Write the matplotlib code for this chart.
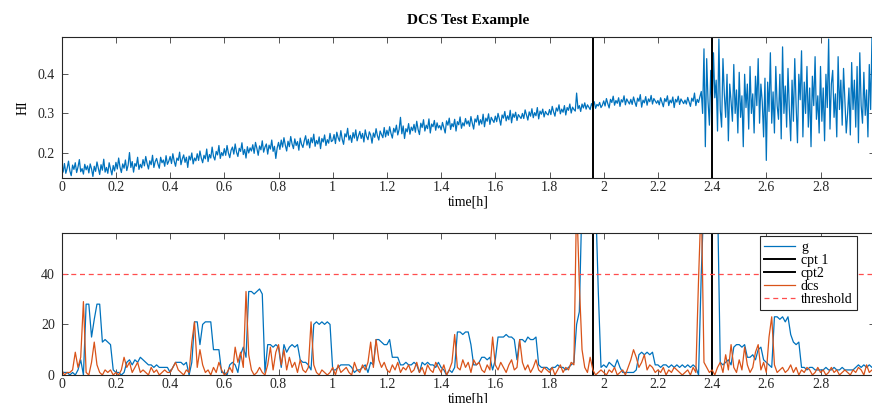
import numpy as np
import matplotlib
matplotlib.use("Agg")
import matplotlib.pyplot as plt
from matplotlib.ticker import FuncFormatter

# both panels run from 0 to 3 h with equally spaced samples
t_start, t_end = 0.0, 3.0

# health indicator, in thousandths, 20 samples per 0.1 h (top panel)
hi_milli = [
    165, 150, 172, 147, 160, 178, 153, 141, 168, 157, 174, 149, 163, 182, 151, 159, 145, 170, 156, 166,
    148, 171, 158, 139, 165, 152, 176, 160, 144, 169, 155, 183, 150, 162, 147, 174, 158, 143, 167, 153,
    175, 158, 186, 163, 149, 171, 160, 181, 154, 168, 200, 162, 177, 150, 172, 165, 188, 157, 170, 161,
    182, 166, 190, 172, 158, 179, 169, 193, 162, 177, 185, 171, 160, 188, 174, 181, 165, 192, 170, 178,
    190, 172, 197, 178, 165, 186, 180, 201, 169, 184, 194, 175, 188, 162, 191, 181, 199, 171, 186, 179,
    197, 180, 204, 186, 174, 193, 184, 209, 177, 195, 186, 214, 190, 181, 203, 194, 218, 185, 200, 192,
    210, 193, 218, 199, 187, 206, 214, 196, 222, 201, 190, 211, 203, 225, 195, 208, 186, 215, 199, 212,
    204, 220, 198, 226, 211, 193, 217, 207, 230, 201, 214, 222, 196, 219, 209, 232, 203, 216, 185, 212,
    226, 208, 232, 214, 238, 219, 204, 229, 215, 241, 222, 210, 235, 218, 228, 206, 237, 221, 213, 230,
    243, 219, 234, 212, 238, 225, 247, 216, 231, 222, 240, 210, 236, 227, 245, 218, 233, 224, 249, 228,
    231, 246, 223, 252, 238, 229, 256, 234, 221, 248, 240, 262, 232, 244, 226, 251, 237, 258, 230, 243,
    254, 236, 249, 227, 258, 241, 233, 253, 245, 224, 250, 239, 261, 243, 232, 255, 246, 238, 264, 240,
    257, 244, 266, 249, 237, 262, 252, 270, 245, 259, 290, 248, 268, 236, 261, 253, 274, 247, 265, 256,
    272, 252, 280, 259, 246, 275, 264, 284, 255, 270, 261, 286, 250, 273, 266, 282, 257, 276, 263, 269,
    258, 277, 263, 250, 281, 270, 288, 259, 274, 266, 285, 255, 279, 271, 291, 262, 276, 268, 287, 273,
    281, 267, 292, 275, 260, 286, 278, 295, 270, 284, 273, 298, 266, 288, 280, 299, 272, 290, 283, 277,
    293, 279, 300, 286, 270, 296, 288, 305, 281, 294, 284, 308, 276, 299, 290, 303, 282, 297, 292, 287,
    300, 287, 309, 296, 283, 304, 293, 312, 289, 302, 294, 315, 286, 306, 298, 311, 291, 305, 299, 296,
    310, 297, 318, 304, 293, 314, 306, 322, 299, 311, 303, 320, 296, 315, 308, 324, 301, 316, 310, 306,
    352, 312, 320, 305, 324, 314, 327, 311, 322, 316, 310, 325, 318, 330, 313, 323, 319, 328, 315, 321,
    332, 319, 338, 325, 314, 336, 328, 344, 321, 333, 326, 340, 318, 335, 329, 345, 322, 337, 330, 324,
    336, 323, 342, 329, 318, 339, 331, 348, 316, 334, 327, 343, 321, 337, 330, 346, 324, 338, 332, 326,
    333, 322, 340, 328, 317, 338, 330, 345, 320, 334, 327, 342, 315, 336, 329, 344, 323, 337, 331, 325,
    334, 324, 341, 329, 318, 339, 331, 352, 320, 336, 328, 343, 356, 300, 465, 215, 440, 330, 270, 410,
    300, 455, 340, 385, 255, 490, 310, 265, 440, 350, 290, 400, 230, 375, 330, 280, 425, 300, 360, 250,
    405, 290, 345, 215, 400, 315, 375, 260, 420, 300, 350, 250, 395, 320, 440, 275, 375, 330, 240, 390,
    180, 380, 305, 455, 275, 355, 250, 420, 320, 285, 400, 235, 470, 300, 370, 265, 415, 310, 230, 385,
    280, 440, 320, 225, 400, 335, 460, 240, 380, 300, 420, 265, 365, 215, 395, 320, 445, 285, 345, 250,
    420, 280, 365, 230, 400, 315, 490, 260, 375, 410, 290, 350, 240, 445, 310, 385, 270, 415, 330, 250,
    300, 365, 245, 430, 310, 385, 265, 420, 225, 455, 320, 275, 405, 295, 360, 240, 425, 310, 498, 275,
    330,
]

# statistic g, 10 samples per 0.1 h (bottom panel, blue)
g_vals = [
    1, 1, 1, 0, 1, 0, 2, 6, 0, 28,
    28, 15, 22, 28, 28, 13, 14, 13, 12, 2,
    1, 1, 0, 1, 5, 6, 4, 6, 5, 7,
    6, 5, 4, 4, 3, 4, 3, 3, 3, 3,
    1, 3, 5, 5, 5, 4, 5, 0, 5, 21,
    21, 12, 20, 21, 21, 21, 10, 10, 10, 1,
    1, 0, 4, 5, 4, 1, 8, 11, 7, 33,
    33, 32, 33, 34, 32, 1, 12, 12, 11, 12,
    11, 3, 12, 9, 11, 12, 11, 12, 6, 5,
    5, 4, 2, 20, 21, 20, 21, 20, 21, 20,
    2, 2, 3, 4, 4, 4, 4, 3, 1, 2,
    2, 3, 4, 1, 5, 4, 14, 14, 13, 12,
    12, 14, 7, 7, 7, 4, 4, 5, 4, 4,
    5, 4, 1, 5, 4, 5, 4, 4, 3, 5,
    3, 2, 0, 2, 1, 3, 17, 17, 16, 17,
    17, 12, 4, 4, 5, 7, 7, 6, 7, 2,
    6, 15, 15, 15, 16, 15, 15, 14, 6, 14,
    14, 13, 15, 14, 14, 15, 4, 3, 3, 3,
    2, 3, 3, 4, 3, 3, 2, 3, 4, 5,
    20, 25, 70, 70, 70, 70, 70, 70, 33, 3,
    4, 3, 5, 4, 3, 6, 3, 1, 1, 1,
    1, 1, 2, 8, 9, 8, 9, 8, 9, 4,
    4, 3, 4, 4, 3, 4, 3, 4, 3, 4,
    3, 4, 3, 4, 3, 0, 40, 70, 70, 70,
    70, 70, 70, 5, 4, 5, 6, 4, 11, 12,
    12, 11, 12, 7, 7, 8, 6, 10, 11, 6,
    5, 4, 3, 23, 23, 22, 23, 21, 23, 16,
    13, 12, 13, 3, 3, 2, 3, 3, 2, 2,
    2, 2, 3, 2, 2, 3, 2, 2, 3, 2,
    2, 2, 2, 3, 4, 3, 4, 3, 4, 3,
    4,
]

# decision statistic dcs, 10 samples per 0.1 h (bottom panel, orange)
dcs_vals = [
    2, 0, 1, 1, 2, 9, 3, 7, 29, 1,
    0, 5, 13, 4, 1, 0, 2, 1, 2, 0,
    1, 0, 2, 7, 3, 5, 1, 3, 5, 1,
    2, 1, 0, 3, 1, 2, 0, 1, 2, 1,
    1, 3, 5, 2, 1, 0, 2, 1, 13, 21,
    3, 10, 4, 1, 2, 0, 3, 1, 5, 2,
    0, 1, 3, 1, 11, 5, 9, 3, 33, 8,
    2, 0, 1, 3, 1, 0, 4, 11, 2, 9,
    12, 4, 10, 2, 7, 3, 5, 1, 6, 2,
    1, 3, 21, 4, 1, 0, 2, 1, 0, 1,
    3, 0, 4, 1, 2, 3, 1, 0, 5, 2,
    1, 4, 2, 5, 13, 3, 14, 6, 3, 5,
    2, 1, 4, 2, 5, 1, 3, 2, 4, 1,
    2, 5, 1, 3, 0, 4, 2, 1, 5, 3,
    1, 4, 0, 2, 5, 16, 3, 2, 6, 3,
    5, 1, 6, 4, 5, 2, 1, 4, 2, 15,
    4, 2, 5, 3, 1, 4, 6, 2, 3, 14,
    5, 2, 4, 1, 3, 6, 2, 1, 3, 2,
    1, 3, 0, 2, 4, 1, 3, 2, 5, 4,
    70, 36, 10, 3, 1, 7, 2, 0, 1, 2,
    1, 0, 2, 1, 3, 0, 1, 2, 0, 3,
    6, 10, 7, 3, 5, 8, 2, 4, 3, 1,
    2, 1, 3, 0, 2, 1, 3, 2, 1, 0,
    1, 2, 0, 3, 1, 38, 70, 5, 3, 1,
    2, 0, 3, 5, 1, 8, 2, 12, 3, 1,
    6, 2, 11, 4, 1, 3, 9, 12, 2, 5,
    1, 15, 23, 4, 1, 2, 3, 1, 2, 4,
    1, 3, 0, 2, 1, 3, 2, 0, 1, 3,
    1, 2, 0, 1, 3, 1, 2, 0, 1, 2,
    1, 0, 2, 1, 3, 2, 0, 4, 1, 2,
    1,
]

cpt1 = 1.96
cpt2 = 2.40
threshold = 40

hi = np.array(hi_milli) / 1000.0
t_hi = np.linspace(t_start, t_end, len(hi))
t_g = np.linspace(t_start, t_end, len(g_vals))

plt.rcParams['font.family'] = ['Liberation Serif', 'DejaVu Serif']
plt.rcParams['font.size'] = 10

blue = '#0072BD'
orange = '#D95319'
dark = '#262626'

fig = plt.figure(figsize=(8.72, 4.03), dpi=100)
ax1 = fig.add_axes([0.0708, 0.5583, 0.9323, 0.3506])
ax2 = fig.add_axes([0.0708, 0.0695, 0.9323, 0.3516])

ax1.plot(t_hi, hi, color=blue, lw=0.9)
ax1.axvline(cpt1, color='k', lw=1.4)
ax1.axvline(cpt2, color='k', lw=1.4)
ax1.set_xlim(0, 3)
ax1.set_ylim(0.135, 0.496)
ax1.set_yticks([0.2, 0.3, 0.4])
ax1.set_ylabel('HI', labelpad=6)
ax1.set_xlabel('time[h]', labelpad=1)
ax1.set_title('DCS Test Example', fontweight='bold', fontsize=11, pad=9)

ax2.plot(t_g, g_vals, color=blue, lw=0.9, label='g')
ax2.axvline(cpt1, color='k', lw=1.4, label='cpt 1')
ax2.axvline(cpt2, color='k', lw=1.4, label='cpt2')
ax2.plot(t_g, dcs_vals, color=orange, lw=0.9, label='dcs')
ax2.axhline(threshold, color='#ff4d4d', lw=0.9, ls=(0, (4, 3)), label='threshold')
ax2.set_xlim(0, 3)
ax2.set_ylim(0, 56)
ax2.set_yticks([0, 20, 40])
ax2.set_xlabel('time[h]', labelpad=1)

leg = ax2.legend(loc='upper right', bbox_to_anchor=(0.978, 0.978), fontsize=10,
                 fancybox=False, framealpha=1, edgecolor=dark, borderaxespad=0,
                 handlelength=2.2, labelspacing=0.0, borderpad=0.3,
                 handletextpad=0.45)
leg.get_frame().set_linewidth(0.8)

for ax in (ax1, ax2):
    ax.set_xticks(np.arange(0, 3.01, 0.2))
    ax.xaxis.set_major_formatter(FuncFormatter(lambda v, p: '%g' % round(v, 1)))
    ax.tick_params(direction='in', top=True, right=True, length=4, width=0.7,
                   color='#555555', labelcolor=dark, labelsize=10, pad=2)
    ax.tick_params(axis='y', pad=5)
    for s in ax.spines.values():
        s.set_color(dark)
        s.set_linewidth(0.8)

fig.savefig('out.png', dpi=100)
